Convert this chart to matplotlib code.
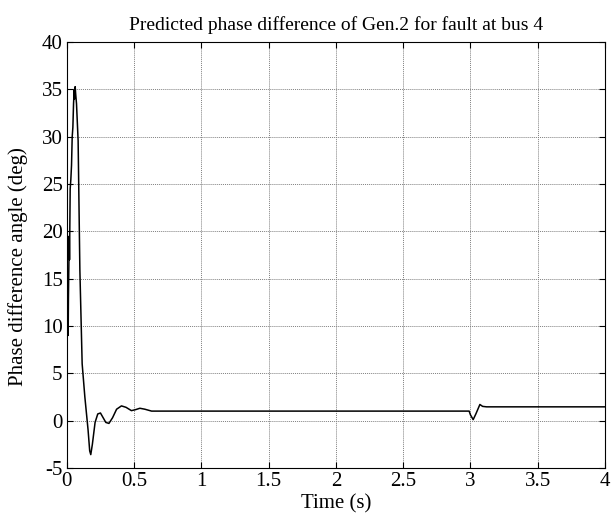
import numpy as np
import matplotlib.pyplot as plt

plt.rcParams['font.family'] = ['Liberation Serif', 'DejaVu Serif']
plt.rcParams['axes.unicode_minus'] = False

# values
t = [0.0, 0.005, 0.01, 0.012, 0.018, 0.02, 0.025, 0.03, 0.035, 0.04, 0.045, 0.05,
     0.055, 0.058, 0.062, 0.066, 0.072, 0.084, 0.097, 0.114, 0.134, 0.158,
     0.17, 0.178, 0.19, 0.21, 0.23, 0.25, 0.27, 0.29, 0.313, 0.34, 0.37, 0.406,
     0.44, 0.48, 0.51, 0.543, 0.58, 0.63, 1.0, 2.0, 2.99, 3.0, 3.02, 3.04, 3.07,
     3.09, 3.12, 3.5, 4.0]
v = [6.2, 12.5, 9.0, 13.0, 19.5, 17.0, 24.5, 25.5, 27.0, 30.0, 31.0, 33.5,
     35.0, 34.0, 35.3, 34.5, 33.5, 29.6, 15.9, 6.0, 2.5, -1.0,
     -3.2, -3.6, -2.5, -0.2, 0.7, 0.8, 0.3, -0.2, -0.3, 0.3, 1.2, 1.55,
     1.4, 1.05, 1.15, 1.3, 1.2, 1.0, 1.0, 1.0, 1.0, 0.6, 0.1, 0.7, 1.7,
     1.5, 1.45, 1.45, 1.45]

fig = plt.figure(figsize=(6.13, 5.21), dpi=100)
ax = fig.add_axes([0.109, 0.102, 0.878, 0.817])

ax.plot(t, v, color='black', linewidth=1.1)

ax.set_xlim(0, 4)
ax.set_ylim(-5, 40)
ax.set_xticks(np.arange(0, 4.01, 0.5))
ax.set_xticklabels(['0', '0.5', '1', '1.5', '2', '2.5', '3', '3.5', '4'])
ax.set_yticks(np.arange(-5, 41, 5))
ax.grid(True, color='#808080', linestyle=(0, (1, 1)), linewidth=0.7)
ax.tick_params(direction='in', length=4, labelsize=15, top=True, right=True, pad=3)
for s in ax.spines.values():
    s.set_linewidth(0.8)

ax.set_title('Predicted phase difference of Gen.2 for fault at bus 4', fontsize=14, pad=9)
ax.set_xlabel('Time (s)', fontsize=15, labelpad=2)
ax.set_ylabel('Phase difference angle (deg)', fontsize=15)
ax.yaxis.set_label_coords(-0.073, 0.472)

fig.savefig('out.png', dpi=100)
